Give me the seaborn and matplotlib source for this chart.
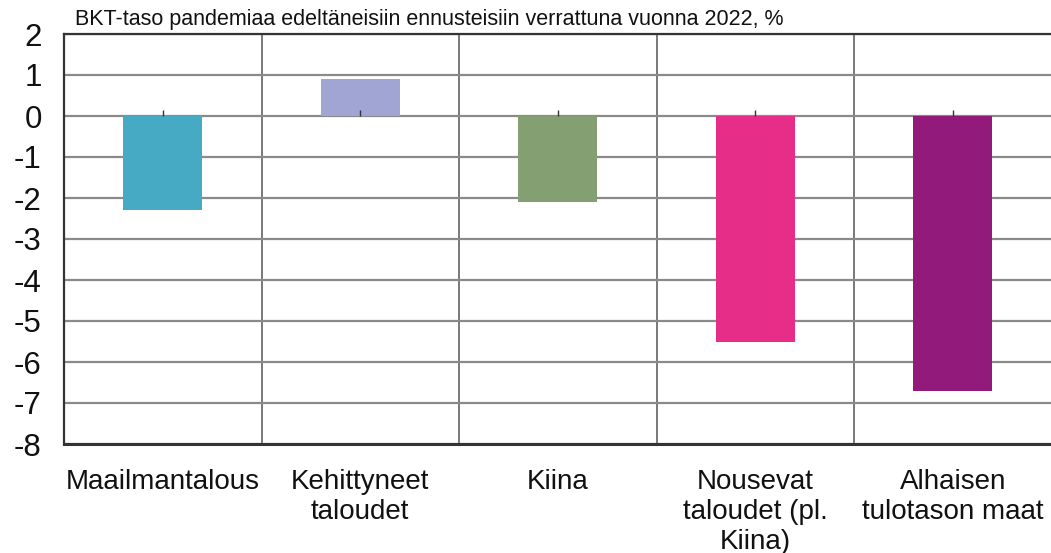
import matplotlib
matplotlib.use("Agg")
import matplotlib.pyplot as plt
import seaborn as sns
import pandas as pd
import numpy as np

categories = ["Maailmantalous", "Kehittyneet\ntaloudet", "Kiina", "Nousevat\ntaloudet (pl.\nKiina)", "Alhaisen\ntulotason maat"]
values = [-2.3, 0.9, -2.1, -5.5, -6.7]
colors = ["#47aac4", "#a0a5d3", "#84a073", "#e62e89", "#911a7b"]
yticks = [2, 1, 0, -1, -2, -3, -4, -5, -6, -7, -8]
title = "BKT-taso pandemiaa edeltäneisiin ennusteisiin verrattuna vuonna 2022, %"

sns.set_theme(style="white")
plt.rcParams['font.family'] = ['Liberation Sans', 'DejaVu Sans']

df = pd.DataFrame({"cat": categories, "val": values})

fig = plt.figure(figsize=(10.51, 5.53), dpi=100)
ax = fig.add_axes([64/1051, 1 - 444/553, (1051.5 - 64)/1051, (444 - 34)/553])

sns.barplot(data=df, x="cat", y="val", hue="cat", palette=colors, width=0.4,
            legend=False, ax=ax, zorder=3, saturation=1, edgecolor="none")

ax.set_ylim(-8, 2)
ax.set_xlim(-0.5, len(categories) - 0.5)
ax.set_yticks(yticks)
ax.set_yticklabels([str(t) for t in yticks], fontsize=22.5, color="#111111")
ax.set_xticks(range(len(categories)))
ax.set_xticklabels(categories, fontsize=20, linespacing=1.2, color="#111111")
ax.set_xlabel("")
ax.set_ylabel("")
ax.tick_params(axis="both", length=0)
ax.tick_params(axis="x", pad=18)
ax.tick_params(axis="y", pad=16)

# horizontal gridlines
ax.yaxis.grid(True, color="#8a8a8a", linewidth=1.6, zorder=1)
# vertical separators between categories
ax.set_xticks(np.arange(len(categories) - 1) + 0.5, minor=True)
ax.xaxis.grid(True, which="minor", color="#555555", linewidth=1.1, zorder=1)
ax.tick_params(axis="x", which="minor", length=0)
ax.set_axisbelow(True)

# small tick marks at category centres above zero line
ax.vlines(range(len(categories)), 0, 0.15, color="#333333", linewidth=1, zorder=4)

for side in ["left", "bottom", "top"]:
    ax.spines[side].set_visible(True)
    ax.spines[side].set_color("#333333")
    ax.spines[side].set_linewidth(1.6)
ax.spines["right"].set_visible(False)
ax.spines["bottom"].set_linewidth(2.2)

fig.text(75/1051, 1 - 20/553, title, fontsize=15.5, va="center", ha="left", color="#111111")

fig.savefig("out.png", dpi=100, facecolor="white")
